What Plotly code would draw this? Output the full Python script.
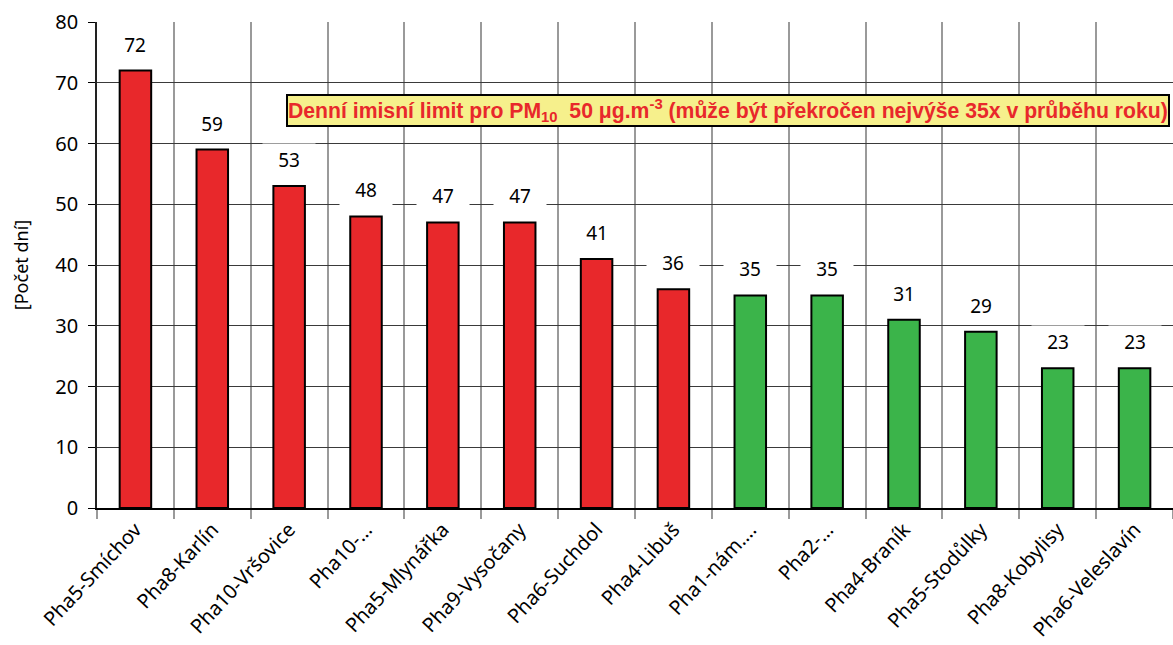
import plotly.graph_objects as go

stations = ["Pha5-Smíchov", "Pha8-Karlín", "Pha10-Vršovice", "Pha10-…", "Pha5-Mlynářka",
            "Pha9-Vysočany", "Pha6-Suchdol", "Pha4-Libuš", "Pha1-nám.…", "Pha2-…",
            "Pha4-Braník", "Pha5-Stodůlky", "Pha8-Kobylisy", "Pha6-Veleslavín"]
days = [72, 59, 53, 48, 47, 47, 41, 36, 35, 35, 31, 29, 23, 23]
limit_days = 35

RED = "#e8282b"
GREEN = "#3bb44a"
colors = [RED if d > limit_days else GREEN for d in days]

FONT = "Noto Sans"

fig = go.Figure()
fig.add_trace(go.Bar(
    x=stations, y=days, marker=dict(color=colors, line=dict(color="black", width=2)),
    width=0.41, showlegend=False,
))

# value labels with white boxes over the grid
for s, d in zip(stations, days):
    fig.add_annotation(x=s, y=d, text=str(d), showarrow=False, yanchor="middle", yshift=26,
                       bgcolor="white", borderpad=3, width=46,
                       font=dict(family=FONT, size=19, color="black"))

fig.add_annotation(
    xref="paper", yref="y", x=0.9975, y=65.5, xanchor="right", yanchor="middle",
    text="Denní imisní limit pro PM<sub>10</sub>  50 μg.m<sup>-3</sup> (může být překročen nejvýše 35x v průběhu roku)",
    showarrow=False, bgcolor="#f6f08c", bordercolor="black", borderwidth=2, borderpad=0,
    font=dict(family="Liberation Sans", size=21.2, color="#e8282b", weight="bold"),
)

fig.update_layout(
    width=1173, height=645, margin=dict(l=97, r=0, t=22, b=137),
    paper_bgcolor="white", plot_bgcolor="white",
    font=dict(family=FONT, size=18, color="black"),
    bargap=0.59,
)
fig.update_xaxes(
    type="category", tickson="boundaries", showgrid=True, gridcolor="#9a9a9a", gridwidth=1.5,
    ticks="outside", ticklen=9, tickcolor="#9a9a9a", tickwidth=1.5, tickangle=-47,
    showline=True, linecolor="black", linewidth=2, tickfont=dict(family=FONT, size=20),
    mirror=False,
)
fig.update_yaxes(
    range=[0, 80], dtick=10, showgrid=True, gridcolor="#3a3a3a", gridwidth=1.2,
    ticks="outside", ticklen=7, tickcolor="black", showline=True, linecolor="#222", linewidth=1.5,
    zeroline=False, ticklabelstandoff=6,
    title=dict(text="[Počet dní]", font=dict(family=FONT, size=18), standoff=22),
    tickfont=dict(family=FONT, size=20),
)

fig.write_html("out.html")
